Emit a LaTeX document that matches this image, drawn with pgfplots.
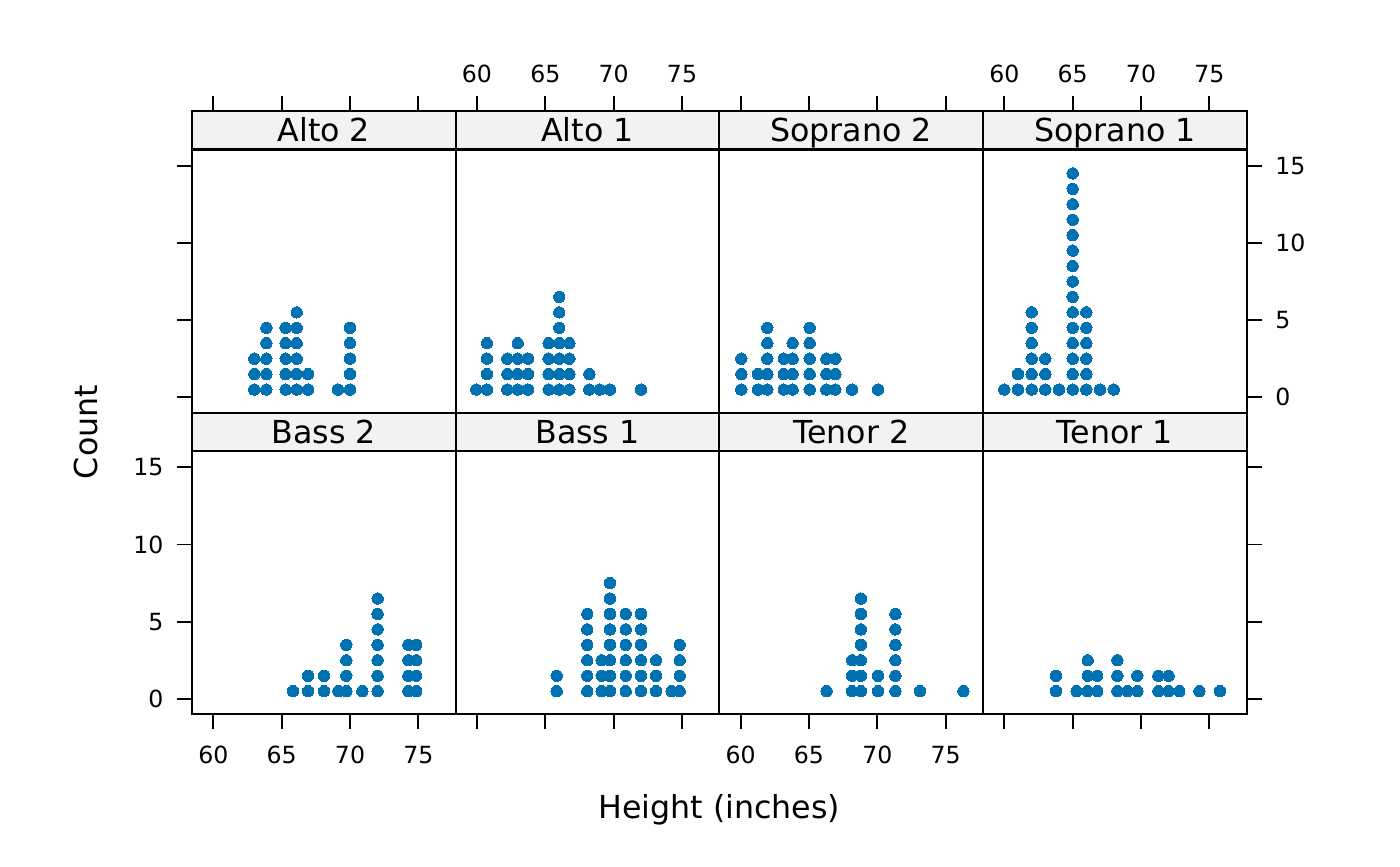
\documentclass[border=0pt]{standalone}
\usepackage{fontspec}
\setmainfont{DejaVu Sans}
\usepackage{pgfplots}
\pgfplotsset{compat=1.18}
\definecolor{dotblue}{RGB}{0,114,178}
\definecolor{stripgray}{RGB}{242,242,242}
\pgfplotsset{
  panel/.style={
    scale only axis, width=94.92pt, height=108.58pt,
    xmin=58.44, xmax=77.73, ymin=-1, ymax=18.537,
    anchor=south west,
    axis line style={line width=0.75pt},
    every tick/.style={black, line width=0.7pt},
    major tick length=5.4pt,
    tick align=outside,
    xtick={60,65,70,75}, ytick={0,5,10,15},
    tick label style={font=\fontsize{8.5}{10}\selectfont},
    yticklabel shift=1.4pt,
    /pgf/number format/assume math mode=true,
    axis on top,
  },
  toprow/.style={xticklabel shift=1.4pt},
  botrow/.style={xticklabel shift=2.5pt},
  dots/.style={only marks, mark=*, mark size=2.05pt, color=dotblue, mark options={fill=dotblue, draw=dotblue, line width=0pt}},
}
\newcommand{\strip}[1]{%
  \fill[stripgray] (rel axis cs:0,0.8727) rectangle (rel axis cs:1,1);
  \draw[line width=0.75pt] (rel axis cs:0,0.8727) -- (rel axis cs:1,0.8727);
  \node[anchor=base, yshift=-4.15pt, inner sep=0pt, font=\fontsize{11.4}{13}\selectfont] at (rel axis cs:0.5,0.9363) {#1};
}
\begin{document}
\begin{tikzpicture}
\useasboundingbox (0,0) rectangle (504pt,311.76pt);
% ---------- top row ----------
\begin{axis}[panel, toprow, at={(69.12pt,163.19pt)},
  xtick pos=right, xticklabels={,,}, ytick pos=left, yticklabels={,,}]
\strip{Alto 2}
\addplot[dots] coordinates {
(63.0,0.5)(63.0,1.5)(63.0,2.5)
(63.88,0.5)(63.88,1.5)(63.88,2.5)(63.88,3.5)(63.88,4.5)
(65.29,0.5)(65.29,1.5)(65.29,2.5)(65.29,3.5)(65.29,4.5)
(66.10,0.5)(66.10,1.5)(66.10,2.5)(66.10,3.5)(66.10,4.5)(66.10,5.5)
(66.93,0.5)(66.93,1.5)
(69.12,0.5)
(70.0,0.5)(70.0,1.5)(70.0,2.5)(70.0,3.5)(70.0,4.5)
};
\end{axis}
\begin{axis}[panel, toprow, at={(164.04pt,163.19pt)},
  xtick pos=right, xticklabel pos=right, ytick=\empty]
\strip{Alto 1}
\addplot[dots] coordinates {
(59.95,0.5)
(60.73,0.5)(60.73,1.5)(60.73,2.5)(60.73,3.5)
(62.22,0.5)(62.22,1.5)(62.22,2.5)
(62.98,0.5)(62.98,1.5)(62.98,2.5)(62.98,3.5)
(63.73,0.5)(63.73,1.5)(63.73,2.5)
(65.24,0.5)(65.24,1.5)(65.24,2.5)(65.24,3.5)
(66.02,0.5)(66.02,1.5)(66.02,2.5)(66.02,3.5)(66.02,4.5)(66.02,5.5)(66.02,6.5)
(66.76,0.5)(66.76,1.5)(66.76,2.5)(66.76,3.5)
(68.22,0.5)(68.22,1.5)
(68.98,0.5)
(69.73,0.5)
(72.0,0.5)
};
\end{axis}
\begin{axis}[panel, toprow, at={(258.96pt,163.19pt)},
  xtick pos=right, xticklabels={,,}, ytick=\empty]
\strip{Soprano 2}
\addplot[dots] coordinates {
(60.05,0.5)(60.05,1.5)(60.05,2.5)
(61.27,0.5)(61.27,1.5)
(61.95,0.5)(61.95,1.5)(61.95,2.5)(61.95,3.5)(61.95,4.5)
(63.15,0.5)(63.15,1.5)(63.15,2.5)
(63.80,0.5)(63.80,1.5)(63.80,2.5)(63.80,3.5)
(65.05,0.5)(65.05,1.5)(65.05,2.5)(65.05,3.5)(65.05,4.5)
(66.27,0.5)(66.27,1.5)(66.27,2.5)
(66.93,0.5)(66.93,1.5)(66.93,2.5)
(68.15,0.5)
(70.05,0.5)
};
\end{axis}
\begin{axis}[panel, toprow, at={(353.88pt,163.19pt)},
  xtick pos=right, xticklabel pos=right, ytick pos=right, yticklabel pos=right]
\strip{Soprano 1}
\addplot[dots] coordinates {
(60,0.5)
(61,0.5)(61,1.5)
(62,0.5)(62,1.5)(62,2.5)(62,3.5)(62,4.5)(62,5.5)
(63,0.5)(63,1.5)(63,2.5)
(64,0.5)
(65,0.5)(65,1.5)(65,2.5)(65,3.5)(65,4.5)(65,5.5)(65,6.5)(65,7.5)
(65,8.5)(65,9.5)(65,10.5)(65,11.5)(65,12.5)(65,13.5)(65,14.5)
(66,0.5)(66,1.5)(66,2.5)(66,3.5)(66,4.5)(66,5.5)
(67,0.5)
(68,0.5)
};
\end{axis}
% ---------- bottom row ----------
\begin{axis}[panel, botrow, at={(69.12pt,54.61pt)},
  xtick pos=left, xticklabel pos=left, ytick pos=left, yticklabel pos=left]
\strip{Bass 2}
\addplot[dots] coordinates {
(65.83,0.5)
(66.93,0.5)(66.93,1.5)
(68.10,0.5)(68.10,1.5)
(69.15,0.5)
(69.73,0.5)(69.73,1.5)(69.73,2.5)(69.73,3.5)
(70.90,0.5)
(72.02,0.5)(72.02,1.5)(72.02,2.5)(72.02,3.5)(72.02,4.5)(72.02,5.5)(72.02,6.5)
(74.27,0.5)(74.27,1.5)(74.27,2.5)(74.27,3.5)
(74.85,0.5)(74.85,1.5)(74.85,2.5)(74.85,3.5)
};
\end{axis}
\begin{axis}[panel, botrow, at={(164.04pt,54.61pt)},
  xtick pos=left, xticklabels={,,}, ytick=\empty]
\strip{Bass 1}
\addplot[dots] coordinates {
(65.83,0.5)(65.83,1.5)
(68.07,0.5)(68.07,1.5)(68.07,2.5)(68.07,3.5)(68.07,4.5)(68.07,5.5)
(69.12,0.5)(69.12,1.5)(69.12,2.5)
(69.73,0.5)(69.73,1.5)(69.73,2.5)(69.73,3.5)(69.73,4.5)(69.73,5.5)(69.73,6.5)(69.73,7.5)
(70.88,0.5)(70.88,1.5)(70.88,2.5)(70.88,3.5)(70.88,4.5)(70.88,5.5)
(72.0,0.5)(72.0,1.5)(72.0,2.5)(72.0,3.5)(72.0,4.5)(72.0,5.5)
(73.10,0.5)(73.10,1.5)(73.10,2.5)
(74.24,0.5)
(74.83,0.5)(74.83,1.5)(74.83,2.5)(74.83,3.5)
};
\end{axis}
\begin{axis}[panel, botrow, at={(258.96pt,54.61pt)},
  xtick pos=left, xticklabel pos=left, ytick=\empty]
\strip{Tenor 2}
\addplot[dots] coordinates {
(66.29,0.5)
(68.15,0.5)(68.15,1.5)(68.15,2.5)
(68.80,0.5)(68.80,1.5)(68.80,2.5)(68.80,3.5)(68.80,4.5)(68.80,5.5)(68.80,6.5)
(70.05,0.5)(70.05,1.5)
(71.32,0.5)(71.32,1.5)(71.32,2.5)(71.32,3.5)(71.32,4.5)(71.32,5.5)
(73.12,0.5)
(76.29,0.5)
};
\end{axis}
\begin{axis}[panel, botrow, at={(353.88pt,54.61pt)},
  xtick pos=left, xticklabels={,,}, ytick pos=right, yticklabels={,,}]
\strip{Tenor 1}
\addplot[dots] coordinates {
(63.78,0.5)(63.78,1.5)
(65.29,0.5)
(66.10,0.5)(66.10,1.5)(66.10,2.5)
(66.80,0.5)(66.80,1.5)
(68.27,0.5)(68.27,1.5)(68.27,2.5)
(69.0,0.5)
(69.73,0.5)(69.73,1.5)
(71.27,0.5)(71.27,1.5)
(72.02,0.5)(72.02,1.5)
(72.80,0.5)
(74.27,0.5)
(75.78,0.5)
};
\end{axis}
% ---------- axis titles ----------
\node[anchor=base, rotate=90, inner sep=0pt, font=\fontsize{11.4}{13}\selectfont] at (35.17pt,156.24pt) {Count};
\node[anchor=base, inner sep=0pt, font=\fontsize{11.4}{13}\selectfont] at (258.95pt,17.28pt) {Height (inches)};
\end{tikzpicture}
\end{document}
